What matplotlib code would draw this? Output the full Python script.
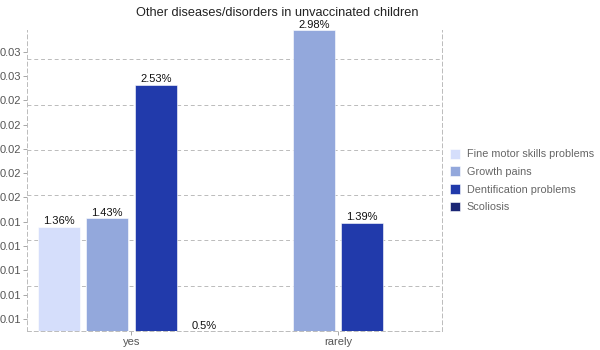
import matplotlib.pyplot as plt
import numpy as np

plt.rcParams['font.family'] = ['Liberation Sans', 'DejaVu Sans']

categories = ['yes', 'rarely']
series_names = ['Fine motor skills problems', 'Growth pains',
                'Dentification problems', 'Scoliosis']
# percent values, nan = no bar
fine_motor = [1.36, np.nan]
growth_pains = [1.43, 2.98]
dentification = [2.53, 1.39]
scoliosis = [0.5, np.nan]
colors = ['#d5defb', '#93a8dc', '#213aab', '#1b2675']

series = [fine_motor, growth_pains, dentification, scoliosis]

fig = plt.figure(figsize=(6, 3.5), dpi=100)
ax = fig.add_axes([0.045, 0.0543, 0.6917, 0.86])

ymin, ymax = 0.005, 0.0298
slot = 0.235
width = 0.203
x = np.arange(len(categories))

for i, (vals, name, c) in enumerate(zip(series, series_names, colors)):
    v = np.array(vals) / 100.0
    pos = x + (i - 1.5) * slot
    ax.bar(pos, v, width=width, color=c, label=name,
           edgecolor='white', linewidth=0.4, zorder=3)
    for p, val in zip(pos, vals):
        if np.isnan(val):
            continue
        top = max(val / 100.0, ymin)
        ax.text(p, top + 0.00004, f'{val:g}%', ha='center', va='bottom',
                fontsize=8, color='#111111', zorder=4)

ax.set_ylim(ymin, ymax)
ax.set_xlim(-0.506, 1.504)

ticks = np.arange(0.006, 0.0285, 0.002)
ax.set_yticks(ticks)
ax.set_yticklabels([f'{t:.2f}' for t in ticks])
ax.set_xticks(x)
ax.set_xticklabels(categories)
ax.tick_params(axis='both', labelsize=8, colors='#999999', labelcolor='#555555',
               length=3, width=0.6, pad=1)

# grid lines
step = 0.00373
for g in np.arange(ymin + step, ymax, step):
    ax.axhline(g, color='#bbbbbb', linestyle=(0, (4, 3)), linewidth=0.7, zorder=1)

for s in ['left', 'right', 'bottom']:
    ax.spines[s].set_color('#bbbbbb')
    ax.spines[s].set_linestyle((0, (4, 3)))
    ax.spines[s].set_linewidth(0.7)
ax.spines['top'].set_visible(False)

fig.text(277 / 600, 1 - 13 / 350, 'Other diseases/disorders in unvaccinated children',
         ha='center', va='center', fontsize=9.2, color='#222222')

leg = ax.legend(loc='center left', bbox_to_anchor=(1.0, 0.5), frameon=False,
                fontsize=7.8, handlelength=1.0, handleheight=1.0, handletextpad=0.6,
                labelspacing=0.65, borderaxespad=0.3)
for t in leg.get_texts():
    t.set_color('#666666')

fig.savefig('out.png', dpi=100)
